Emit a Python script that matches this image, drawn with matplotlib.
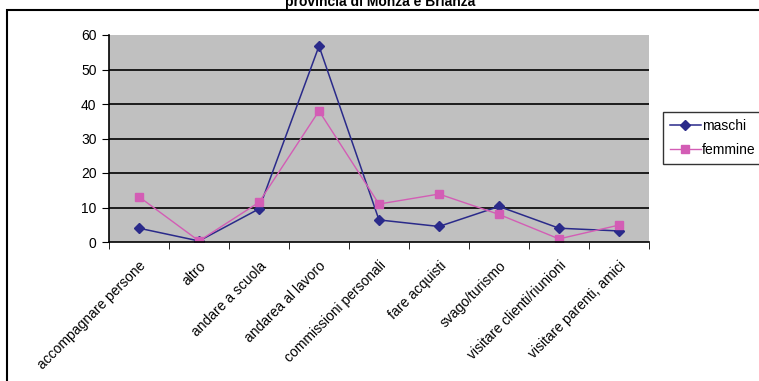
import matplotlib
matplotlib.use("Agg")
import matplotlib.pyplot as plt
from matplotlib.patches import Rectangle
import numpy as np

categories = ["accompagnare persone", "altro", "andare a scuola", "andarea al lavoro",
              "commissioni personali", "fare acquisti", "svago/turismo",
              "visitare clienti/riunioni", "visitare parenti, amici"]
maschi = [4.0, 0.3, 9.6, 56.8, 6.4, 4.5, 10.3, 4.0, 3.2]
femmine = [13.1, 0.3, 11.5, 38.0, 11.0, 13.9, 8.0, 0.9, 4.9]
yticks = [0, 10, 20, 30, 40, 50, 60]
title = "provincia di Monza e Brianza"

plt.rcParams['font.family'] = ['Liberation Sans', 'DejaVu Sans']

W, H = 759, 381
fig = plt.figure(figsize=(W / 100, H / 100), dpi=100)

# outer chart border
fig.patches.append(Rectangle((7 / W, -0.1), 1.2, 1 - 10 / H + 0.1, transform=fig.transFigure,
                             fill=False, edgecolor='black', linewidth=1.5, zorder=0))
fig.text(380 / W, 1 - 6 / H, title, ha='center', va='baseline', fontsize=10, fontweight='bold')

ax = fig.add_axes([109 / W, (H - 242) / H, 540 / W, (242 - 35) / H])
ax.set_facecolor('#C0C0C0')
x = np.arange(len(categories))
ax.plot(x, maschi, color='#2A2A8A', marker='D', markersize=5, linewidth=1.1, label='maschi')
ax.plot(x, femmine, color='#D35DB5', marker='s', markersize=5.5, linewidth=1.0, label='femmine')

ax.set_xlim(-0.5, len(categories) - 0.5)
ax.set_ylim(0, 60)
ax.set_yticks(yticks)
ax.set_yticklabels([str(v) for v in yticks], fontsize=10)
for v in yticks[1:-1]:
    ax.axhline(v, color='black', linewidth=1.2, zorder=1)

ax.set_xticks(np.arange(-0.5, len(categories), 1.0), minor=True)
ax.set_xticks(x)
ax.set_xticklabels(categories, rotation=45, ha='right', va='top', rotation_mode='anchor', fontsize=10)
ax.tick_params(axis='x', which='major', length=0, pad=12)
ax.tick_params(axis='x', which='minor', length=5, direction='out', color='black')
ax.tick_params(axis='y', length=5, direction='out', pad=4)

for s in ['top', 'right']:
    ax.spines[s].set_visible(False)
ax.spines['left'].set_linewidth(1.2)
ax.spines['bottom'].set_linewidth(1.2)

leg = ax.legend(loc='upper left', bbox_to_anchor=((663 - 109) / 540, (242 - 112) / (242 - 35)),
                frameon=True, fancybox=False, fontsize=10, handlelength=2.2,
                handletextpad=0.1, borderpad=0.5, labelspacing=0.7, borderaxespad=0)
leg.get_frame().set_edgecolor('black')
leg.get_frame().set_linewidth(1.0)

fig.savefig('out.png', dpi=100)
